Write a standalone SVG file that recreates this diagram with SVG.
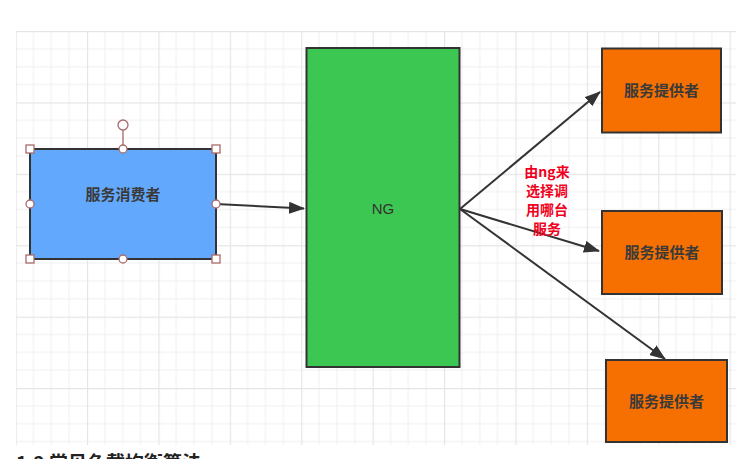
<svg xmlns="http://www.w3.org/2000/svg" width="736" height="459" viewBox="0 0 736 459">
<style>
.box{stroke:#333;stroke-width:2}
.lbl{font-family:"Noto Sans CJK SC","Liberation Sans",sans-serif;font-size:15px;font-weight:bold;fill:#3a3a3a;text-anchor:middle}
.conn{stroke:#333;stroke-width:2;fill:none}
.hdl{fill:#fff;stroke:#a86b6b;stroke-width:1.3}
.red{font-family:"Noto Sans CJK SC","Liberation Sans",sans-serif;font-size:14px;font-weight:bold;fill:#f0001c;text-anchor:middle}
</style>
<defs>
<pattern id="grid" x="15.6" y="31" width="71.4" height="71.4" patternUnits="userSpaceOnUse">
<path d="M17.85 0V71.4M35.7 0V71.4M53.55 0V71.4M0 17.85H71.4M0 35.7H71.4M0 53.55H71.4" stroke="#f0f0f0" stroke-width="1" fill="none"/>
<path d="M0.5 0V71.4M0 0.5H71.4" stroke="#e5e5e5" stroke-width="1.3" fill="none"/>
</pattern>
<marker id="arr" viewBox="0 0 16 12" refX="15" refY="6" markerWidth="16" markerHeight="12" markerUnits="userSpaceOnUse" orient="auto">
<path d="M0 0L16 6L0 12Z" fill="#333"/>
</marker>
</defs>
<rect width="736" height="459" fill="#fff"/>
<rect x="16" y="31" width="720" height="414" fill="url(#grid)"/>
<g id="connectors">
<line class="conn" x1="216" y1="204" x2="304" y2="208.5" marker-end="url(#arr)"/>
<line class="conn" x1="460" y1="209" x2="600" y2="92" marker-end="url(#arr)"/>
<line class="conn" x1="460" y1="209" x2="599" y2="251" marker-end="url(#arr)"/>
<line class="conn" x1="460" y1="209" x2="665" y2="359" marker-end="url(#arr)"/>
</g>
<g id="consumer">
<rect class="box" x="30" y="149" width="186" height="110" fill="#62a9fd"/>
<text class="lbl" x="123" y="200">服务消费者</text>
<line x1="123" y1="130" x2="123" y2="149" stroke="#a86b6b" stroke-width="1.3"/>
<circle class="hdl" cx="123" cy="125" r="5"/>
<rect class="hdl" x="26" y="145" width="8" height="8"/>
<rect class="hdl" x="212" y="145" width="8" height="8"/>
<rect class="hdl" x="26" y="255" width="8" height="8"/>
<rect class="hdl" x="212" y="255" width="8" height="8"/>
<circle class="hdl" cx="123" cy="149" r="4"/>
<circle class="hdl" cx="30" cy="204" r="4"/>
<circle class="hdl" cx="216" cy="204" r="4"/>
<circle class="hdl" cx="123" cy="259" r="4"/>
</g>
<g id="ng">
<rect class="box" x="306.5" y="48" width="153" height="319" fill="#3cc752"/>
<text x="383" y="214" font-family="'Liberation Sans',sans-serif" font-size="15" fill="#333" text-anchor="middle">NG</text>
</g>
<g id="provider1">
<rect class="box" x="602" y="48.5" width="119" height="84" fill="#f57001"/>
<text class="lbl" x="661.5" y="96">服务提供者</text>
</g>
<g id="provider2">
<rect class="box" x="602" y="211" width="120" height="83" fill="#f57001"/>
<text class="lbl" x="662" y="258">服务提供者</text>
</g>
<g id="provider3">
<rect class="box" x="606" y="360" width="121" height="82" fill="#f57001"/>
<text class="lbl" x="666.5" y="407">服务提供者</text>
</g>
<g id="label">
<text class="red" x="547" y="177">由ng来</text>
<text class="red" x="547" y="196">选择调</text>
<text class="red" x="547" y="215">用哪台</text>
<text class="red" x="547" y="234">服务</text>
</g>
<text x="16" y="470" font-family="'Noto Sans CJK SC','Liberation Sans',sans-serif" font-size="19" font-weight="bold" fill="#222">1.2  常见负载均衡算法</text>
</svg>
